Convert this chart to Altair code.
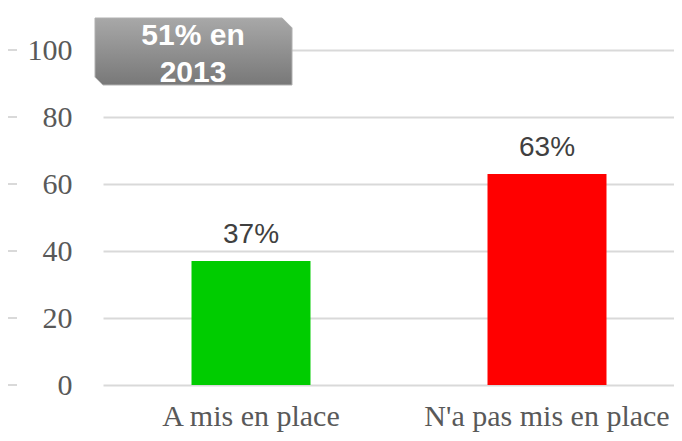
import altair as alt
import pandas as pd

categories = ["A mis en place", "N'a pas mis en place"]
values = [37, 63]
value_labels = ["37%", "63%"]
bar_colors = ["#00cc00", "#ff0000"]
y_ticks = [0, 20, 40, 60, 80, 100]
annotation = ["51% en", "2013"]

df = pd.DataFrame({"cat": categories, "val": values, "lab": value_labels})
ticks_df = pd.DataFrame({"t": y_ticks})

serif = "Liberation Serif"
sans = "Liberation Sans"

x_enc = alt.X(
    "cat:N",
    sort=categories,
    scale=alt.Scale(range=[0, 592], paddingInner=0.598, paddingOuter=0.299),
    axis=alt.Axis(title=None, labelAngle=0, labelFont=serif, labelFontSize=30,
                  labelColor="#595959", ticks=False, tickSize=0, domain=False,
                  labelPadding=16, labelLimit=0, labelOverlap=False, grid=False),
)
y_enc = alt.Y(
    "val:Q",
    scale=alt.Scale(domain=[0, 100]),
    axis=alt.Axis(title=None, values=y_ticks, labelFont=serif, labelFontSize=30,
                  labelColor="#595959", ticks=False, tickSize=0, domain=False,
                  labelPadding=31, grid=True, gridColor="#d9d9d9", gridWidth=2),
)

base = alt.Chart(df)

bars = base.mark_bar().encode(
    x=x_enc,
    y=y_enc,
    color=alt.Color("cat:N", scale=alt.Scale(domain=categories, range=bar_colors), legend=None),
)

labels = base.mark_text(font=sans, fontSize=28, color="#404040", baseline="alphabetic", dy=-18).encode(
    x=alt.X("cat:N", sort=categories),
    y=alt.Y("val:Q"),
    text="lab:N",
)

stubs = alt.Chart(ticks_df).mark_rule(color="#d9d9d9", strokeWidth=2).encode(
    y=alt.Y("t:Q"),
    x=alt.value(-95),
    x2=alt.value(-86),
)

box_path = "M -1 -0.34 L 0.9 -0.34 L 1 -0.24 L 1 0.34 L -0.92 0.34 L -1 0.26 Z"
gradient = {
    "gradient": "linear",
    "x1": 0, "y1": 0, "x2": 0, "y2": 1,
    "stops": [{"offset": 0, "color": "#a8a8a8"}, {"offset": 1, "color": "#787878"}],
}
one = pd.DataFrame({"a": [0]})
box = alt.Chart(one).mark_point(
    shape=box_path, size=197 * 197, filled=True, fill=gradient, opacity=1,
    stroke="#b0b0b0", strokeWidth=1,
).encode(x=alt.value(90.5), y=alt.value(1.5))

box_text = alt.Chart(one).mark_text(
    text=annotation, font=sans, fontSize=30, fontWeight="bold", color="white",
    baseline="alphabetic", align="center", lineHeight=37,
).encode(x=alt.value(90), y=alt.value(-5))

chart = alt.layer(stubs, bars, labels, box, box_text).properties(
    width=571,
    height=335,
    padding={"left": 95, "top": 42, "right": 0, "bottom": 48},
    autosize=alt.AutoSizeParams(type="none"),
).configure_view(stroke=None)

chart.save("out.html", embed_options={"renderer": "svg", "actions": False})
